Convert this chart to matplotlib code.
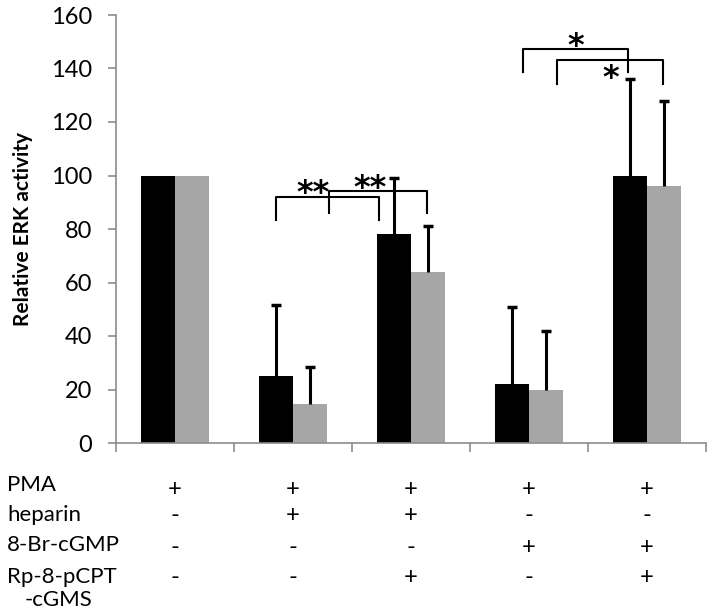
import numpy as np
import matplotlib.pyplot as plt
from matplotlib.transforms import blended_transform_factory

plt.rcParams['font.family'] = ['Lato', 'DejaVu Sans']

# Daten
black_vals = [100, 25, 78, 22, 100]
black_err = [0, 26.5, 21, 29, 36]
gray_vals = [100, 14.5, 64, 20, 96]
gray_err = [0, 14, 17, 22, 32]

row_labels = ["PMA", "heparin", "8-Br-cGMP", "Rp-8-pCPT"]
signs = [
    ["+", "+", "+", "+", "+"],
    ["-", "+", "+", "-", "-"],
    ["-", "-", "-", "+", "+"],
    ["-", "-", "+", "-", "+"],
]

# Signifikanz-Klammern: (x links, x rechts, y oben, y Beine, Text, x Text, y Text)
brackets = [
    (0.856, 1.729, 92.0, 83.5, "**", 1.17, 96.4),
    (1.308, 2.138, 94.3, 86.0, "**", 1.65, 98.0),
    (2.947, 3.836, 147.3, 138.8, "*", 3.40, 151.3),
    (3.240, 4.138, 143.1, 134.2, "*", 3.69, 139.2),
]

fig = plt.figure(figsize=(7.14, 6.15), dpi=100)
ax = fig.add_axes([116 / 714, 1 - 443 / 615, 590 / 714, 428 / 615])

x = np.arange(len(black_vals))
w = 0.285
ax.bar(x - w / 2, black_vals, w, color="black", zorder=2)
ax.bar(x + w / 2, gray_vals, w, color="#a6a6a6", zorder=2)

# nur obere Fehlerbalken, Gruppe ohne Fehler weglassen
cap = 0.045
for offs, vals, errs in [(-w / 2, black_vals, black_err), (w / 2, gray_vals, gray_err)]:
    for i in range(len(vals)):
        if errs[i] <= 0:
            continue
        xc = x[i] + offs
        top = vals[i] + errs[i]
        ax.vlines(xc, vals[i], top, color="black", lw=2.2, zorder=3)
        ax.hlines(top, xc - cap, xc + cap, color="black", lw=2.5, zorder=3)

for xl, xr, yt, yb, txt, xt, yt2 in brackets:
    ax.plot([xl, xl, xr, xr], [yb, yt, yt, yb], color="black", lw=1.5, zorder=4)
    ax.text(xt, yt2 - 3, txt, ha="center", va="center", fontsize=23,
            family="DejaVu Sans", fontweight="bold")

ax.set_xlim(-0.5, 4.5)
ax.set_ylim(0, 160)
ax.set_yticks(np.arange(0, 161, 20))
ax.set_xticks(np.arange(-0.5, 4.6, 1))
ax.set_xticklabels([])
for s in ["top", "right"]:
    ax.spines[s].set_visible(False)
for s in ["left", "bottom"]:
    ax.spines[s].set_color("#8c8c8c")
    ax.spines[s].set_linewidth(1.2)
ax.tick_params(axis="y", length=6, width=1.2, color="#8c8c8c", pad=11, labelsize=17)
ax.tick_params(axis="x", length=6.5, width=1.2, color="#8c8c8c")
ax.set_ylabel("Relative ERK activity", fontsize=15, fontweight="bold")
ax.yaxis.set_label_coords(-0.14, 0.5)

# Tabelle unter der Grafik
trans = blended_transform_factory(ax.transData, fig.transFigure)
label_y = [485, 515, 545, 577]
sign_y = [490, 516, 547, 577]
for r, lab in enumerate(row_labels):
    fig.text(7 / 714, 1 - label_y[r] / 615, lab, ha="left", va="center", fontsize=16)
    for c, sg in enumerate(signs[r]):
        ax.text(x[c], 1 - sign_y[r] / 615, sg, transform=trans, ha="center", va="center",
                fontsize=17, clip_on=False)
fig.text(25 / 714, 1 - 600 / 615, "-cGMS", ha="left", va="center", fontsize=16)

fig.savefig("out.png", dpi=100)
